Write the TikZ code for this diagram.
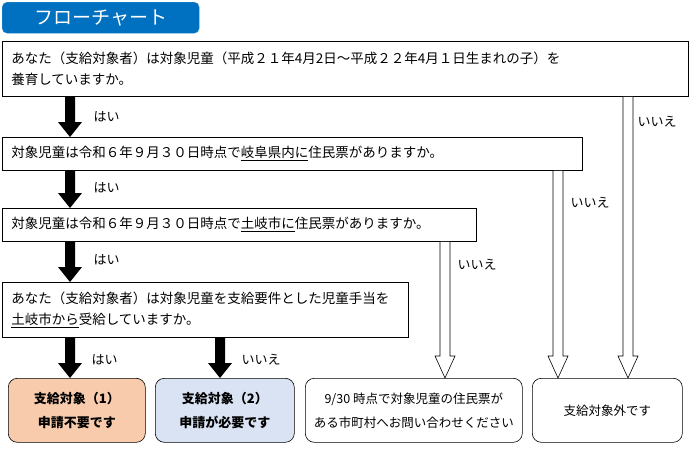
\documentclass[tikz,border=0pt]{standalone}
\usepackage{fontspec}
\setmainfont{Noto Sans CJK JP}
\usetikzlibrary{positioning,calc}
\definecolor{tabblue}{HTML}{0070C0}
\definecolor{yesorange}{HTML}{F8CBAD}
\definecolor{noblue}{HTML}{DAE3F3}

% black arrow between two points
\newcommand\yesarrow[2]{%
  \fill let \p1=#1, \p2=#2 in
    (\x1-5pt,\y1) -- (\x1+5pt,\y1) -- (\x1+5pt,\y2+15pt) -- (\x1+12pt,\y2+15pt)
    -- (\x1,\y2) -- (\x1-12pt,\y2+15pt) -- (\x1-5pt,\y2+15pt) -- cycle;}
% hollow arrow between two points
\newcommand\noarrow[2]{%
  \draw[fill=white, line width=0.6pt] let \p1=#1, \p2=#2 in
    (\x1-5pt,\y1) -- (\x1+5pt,\y1) -- (\x1+5pt,\y2+22pt) -- (\x1+10pt,\y2+22pt)
    -- (\x1,\y2) -- (\x1-10pt,\y2+22pt) -- (\x1-5pt,\y2+22pt) -- cycle;}

\begin{document}
\begin{tikzpicture}[x=1pt, y=-1pt,
    every node/.style={font=\fontsize{13.5}{21}\selectfont},
    qbox/.style={draw, line width=0.6pt, anchor=north west, align=left, inner sep=9pt},
    endbox/.style={draw, line width=0.6pt, rounded corners=9pt, anchor=north west, align=center,
      minimum height=64pt, inner sep=2pt},
    lbl/.style={anchor=west, font=\fontsize{13}{14}\selectfont}
]
\useasboundingbox (0,0) rectangle (690,448);

% タイトル
\node[fill=tabblue, draw=tabblue!80!white, rounded corners=5pt, anchor=north west,
  minimum width=197pt, minimum height=31pt, text=white,
  font=\fontsize{19}{19}\selectfont] (title) at (2,2) {フローチャート};

% 質問
\node[qbox, minimum width=686pt, minimum height=55pt, text width=668pt] (q1) at (2,41)
  {あなた（支給対象者）は対象児童（平成２１年4月2日～平成２２年4月１日生まれの子）を\\養育していますか。};
\node[qbox, minimum width=580pt, minimum height=33pt, text width=562pt] (q2) at (2,137)
  {対象児童は令和６年９月３０日時点で\underline{岐阜県内に}住民票がありますか。};
\node[qbox, minimum width=474pt, minimum height=33pt, text width=456pt] (q3) at (2,208)
  {対象児童は令和６年９月３０日時点で\underline{土岐市に}住民票がありますか。};
\node[qbox, minimum width=406pt, minimum height=55pt, text width=388pt] (q4) at (2,282)
  {あなた（支給対象者）は対象児童を支給要件とした児童手当を\\\underline{土岐市から}受給していますか。};

% 結果
\node[endbox, fill=yesorange, minimum width=137pt, font=\bfseries\fontsize{13}{24}\selectfont] (r1) at (8,378)
  {支給対象（1）\\申請不要です};
\node[endbox, fill=noblue, minimum width=139pt, font=\bfseries\fontsize{13}{24}\selectfont] (r2) at (155,378)
  {支給対象（2）\\申請が必要です};
\node[endbox, minimum width=217pt, font=\fontsize{12.5}{24}\selectfont] (r3) at (305,378)
  {9/30 時点で対象児童の住民票が\\ある市町村へお問い合わせください};
\node[endbox, minimum width=150pt, font=\fontsize{12.5}{24}\selectfont] (r4) at (532,378)
  {支給対象外です};

% 矢印の位置
\coordinate (cy) at (70,0);
\coordinate (cn) at (220,0);
\coordinate (c3) at (445,0);
\coordinate (c2) at (558,0);
\coordinate (c1) at (628,0);

% はい
\yesarrow{(q1.south -| cy)}{(q2.north -| cy)}
\yesarrow{(q2.south -| cy)}{(q3.north -| cy)}
\yesarrow{(q3.south -| cy)}{(q4.north -| cy)}
\yesarrow{(q4.south -| cy)}{(r1.north -| cy)}
\yesarrow{(q4.south -| cn)}{(r2.north -| cn)}
\node[lbl] at (90,117) {はい};
\node[lbl] at (90,188) {はい};
\node[lbl] at (90,260) {はい};
\node[lbl] at (88,360) {はい};
\node[lbl] at (238,360) {いいえ};

% いいえ
\noarrow{(q3.south -| c3)}{(r3.north -| c3)}
\noarrow{(q2.south -| c2)}{(r4.north -| c2)}
\noarrow{(q1.south -| c1)}{(r4.north -| c1)}
\node[lbl] at (454,265) {いいえ};
\node[lbl] at (567,203) {いいえ};
\node[lbl] at (634,122) {いいえ};
\end{tikzpicture}
\end{document}
